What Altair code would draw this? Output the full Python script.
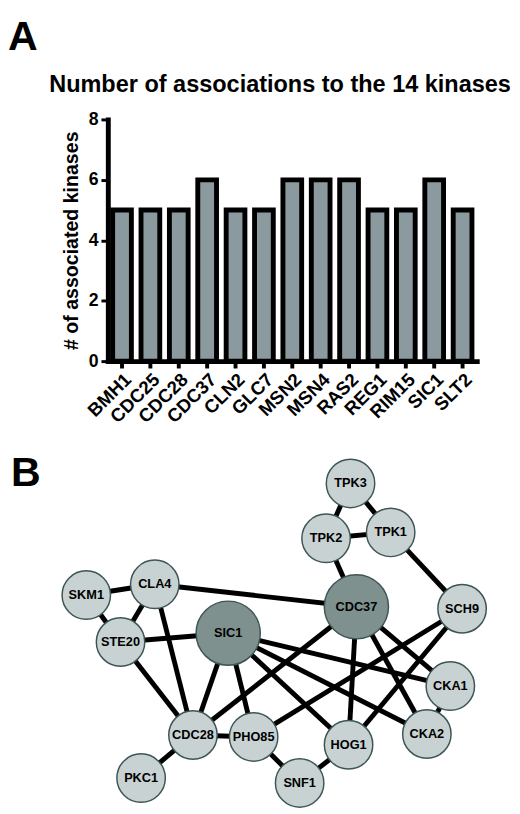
import altair as alt
import pandas as pd

FONT = "Liberation Sans"

# ---- Panel A data ----
genes = ["BMH1", "CDC25", "CDC28", "CDC37", "CLN2", "GLC7", "MSN2",
         "MSN4", "RAS2", "REG1", "RIM15", "SIC1", "SLT2"]
counts = [5, 5, 5, 6, 5, 5, 6, 6, 6, 5, 5, 6, 5]
title_text = ["Number of associations to the 14 kinases"]

# ---- Panel B data (network layout) ----
node_names = ["TPK3", "TPK2", "TPK1", "SKM1", "CLA4", "CDC37", "SCH9", "STE20",
              "SIC1", "CKA1", "CKA2", "CDC28", "PHO85", "HOG1", "PKC1", "SNF1"]
node_x = [358, 333, 399, 88, 158, 364, 472, 123, 233, 460, 436, 197, 259, 356, 144, 306]
node_y = [487, 543, 537, 601, 590, 613, 615, 649, 640, 694, 743, 744, 746, 754, 788, 793]
node_kind = ["minor", "minor", "minor", "minor", "minor", "hub", "minor", "minor",
             "hub", "minor", "minor", "minor", "minor", "minor", "minor", "minor"]

edge_from = ["TPK3", "TPK3", "TPK2", "TPK2", "TPK1", "SKM1", "SKM1", "CLA4", "CLA4",
             "CLA4", "STE20", "STE20", "SIC1", "SIC1", "SIC1", "SIC1", "SIC1",
             "CDC37", "CDC37", "CDC37", "CDC37", "SCH9", "SCH9", "CKA1", "CDC28",
             "CDC28", "PHO85", "SNF1"]
edge_to = ["TPK2", "TPK1", "TPK1", "CDC37", "SCH9", "CLA4", "STE20", "STE20", "CDC37",
           "CDC28", "SIC1", "CDC28", "CDC28", "PHO85", "HOG1", "CKA1", "CKA2",
           "CDC28", "HOG1", "CKA1", "CKA2", "PHO85", "HOG1", "CKA2", "PHO85",
           "PKC1", "SNF1", "HOG1"]

# ---- Panel A chart ----
bar_df = pd.DataFrame({"gene": genes, "count": counts})

bars = alt.Chart(bar_df).mark_bar(
    fill="#8a9a9e", stroke="black", strokeWidth=5, strokeJoin="miter"
).encode(
    x=alt.X("gene:N", sort=genes, title=None,
            scale=alt.Scale(paddingInner=0.34, paddingOuter=0.17),
            axis=alt.Axis(labelAngle=-45, labelAlign="right", labelBaseline="top",
                          labelFontSize=19, labelFontWeight="bold", labelFont=FONT,
                          labelColor="black", domainColor="black", domainWidth=5,
                          domainCap="square", tickColor="black", tickWidth=4,
                          tickSize=7, labelPadding=2)),
    y=alt.Y("count:Q", scale=alt.Scale(domain=[0, 8]),
            title="# of associated kinases",
            axis=alt.Axis(values=[0, 2, 4, 6, 8], labelFontSize=18,
                          labelFontWeight="bold", labelFont=FONT, labelColor="black",
                          domainColor="black", domainWidth=5, domainCap="square",
                          tickColor="black", tickWidth=3, tickSize=7, labelPadding=3,
                          titleFontSize=20, titleFont=FONT, titleFontWeight="bold",
                          titleColor="black", titlePadding=7)),
)

label_a = alt.Chart(pd.DataFrame({"t": ["A"]})).mark_text(
    fontSize=42, fontWeight="bold", font=FONT, align="left", baseline="alphabetic",
    color="black"
).encode(x=alt.value(-102), y=alt.value(-71), text="t:N")

title_a = alt.Chart(pd.DataFrame({"t": title_text})).mark_text(
    fontSize=24, fontWeight="bold", font=FONT, align="center",
    baseline="alphabetic", color="black"
).encode(x=alt.value(176), y=alt.value(-28), text="t:N")

panel_a = alt.layer(bars, label_a, title_a).properties(width=377, height=247)

# ---- Panel B chart ----
nodes_df = pd.DataFrame({"name": node_names, "x": node_x, "y": node_y,
                         "kind": node_kind})
pos = {n: (x, y) for n, x, y in zip(node_names, node_x, node_y)}
edges_df = pd.DataFrame({
    "x1": [pos[a][0] for a in edge_from], "y1": [pos[a][1] for a in edge_from],
    "x2": [pos[b][0] for b in edge_to], "y2": [pos[b][1] for b in edge_to],
})

xs = alt.Scale(domain=[110, 487])
ys = alt.Scale(domain=[440, 814], reverse=True)

edges = alt.Chart(edges_df).mark_rule(color="black", strokeWidth=5).encode(
    x=alt.X("x1:Q", scale=xs, axis=None),
    y=alt.Y("y1:Q", scale=ys, axis=None),
    x2="x2:Q", y2="y2:Q",
)

nodes = alt.Chart(nodes_df).mark_circle(
    stroke="#3d5555", strokeWidth=1.5, opacity=1
).encode(
    x=alt.X("x:Q", scale=xs, axis=None),
    y=alt.Y("y:Q", scale=ys, axis=None),
    size=alt.Size("kind:N", scale=alt.Scale(domain=["minor", "hub"], range=[2450, 4300]),
                  legend=None),
    fill=alt.Fill("kind:N", scale=alt.Scale(domain=["minor", "hub"],
                                            range=["#c8d2d2", "#7f918f"]),
                  legend=None),
)

node_text = alt.Chart(nodes_df).mark_text(
    fontSize=13, fontWeight="bold", font=FONT, color="black"
).encode(
    x=alt.X("x:Q", scale=xs, axis=None),
    y=alt.Y("y:Q", scale=ys, axis=None),
    text="name:N",
)

label_b = alt.Chart(pd.DataFrame({"t": ["B"]})).mark_text(
    fontSize=42, fontWeight="bold", font=FONT, align="left", baseline="alphabetic",
    color="black"
).encode(x=alt.value(-99), y=alt.value(50), text="t:N")

panel_b = alt.layer(edges, nodes, node_text, label_b).properties(width=377, height=374)

chart = alt.vconcat(panel_a, panel_b, spacing=78, bounds="flush",
                    padding=0).configure_view(
    stroke=None
).configure_axis(grid=False)

chart.save("out.html", embed_options={"renderer": "svg", "actions": False})
